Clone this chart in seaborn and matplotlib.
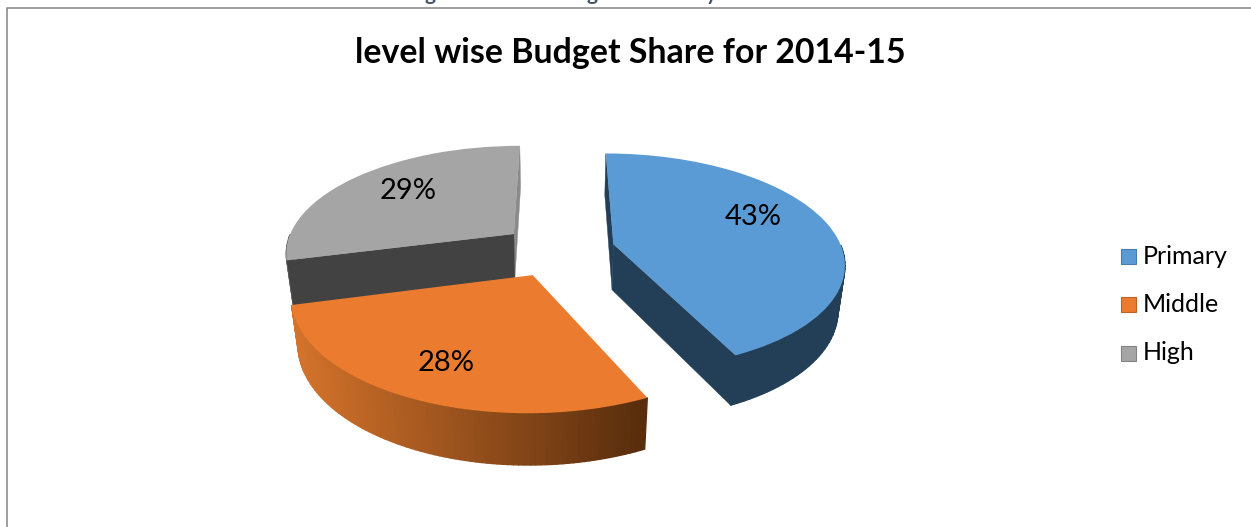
import numpy as np
import matplotlib
matplotlib.use("Agg")
import matplotlib.pyplot as plt
import seaborn as sns
from matplotlib.transforms import Transform
from matplotlib.patches import Rectangle
from matplotlib.colors import to_rgb

categories = ["Primary", "Middle", "High"]
shares = [43, 28, 29]
top_colors = ["#5B9BD5", "#EB7C2F", "#A5A5A5"]
title_text = "level wise Budget Share for 2014-15"
clipped_caption_letters = ["g", "g", "y"]

sns.set_theme(style="white")
plt.rcParams["font.family"] = ["Lato", "DejaVu Sans"]

CX, CY, RX, RY, A, B, D = 558.0, 250.0, 229.0, 107.0, 0.16, 0.025, 47.0


def project(x, y, z=0.0):
    w = 1 + A * np.asarray(y) + B * z
    return CX + RX * np.asarray(x) / w, CY - RY * np.asarray(y) / w + D * z / w


class Perspective(Transform):
    input_dims = output_dims = 2
    is_affine = False
    has_inverse = False

    def transform_non_affine(self, values):
        v = np.asarray(values, float)
        px, py = project(v[:, 0], v[:, 1])
        return np.column_stack([px, py])


fig = plt.figure(figsize=(12.51, 5.27), dpi=100, facecolor="white")
ax = fig.add_axes([0, 0, 1, 1])

wedges, texts, autotexts = ax.pie(
    shares, explode=[0.25] * len(shares), startangle=90, counterclock=False,
    colors=top_colors, autopct="%1.0f%%", pctdistance=0.66,
    wedgeprops=dict(linewidth=0, zorder=5),
    textprops=dict(fontsize=21, color="black", zorder=8, family="Lato"),
)
ax.set_aspect("auto")
ax.set_xlim(0, 1251)
ax.set_ylim(527, 0)
ax.axis("off")

persp = Perspective()
for w in wedges:
    w.set_transform(persp + ax.transData)
label_nudges = [(0.01, 0.13), (-0.03, -0.08), (0.0, 0.05)]
for t, (dx, dy) in zip(autotexts, label_nudges):
    px, py = t.get_position()
    t.set_position((px + dx, py + dy))
    t.set_transform(persp + ax.transData)


def shade(col, f):
    return tuple(c * f for c in to_rgb(col))


def rim_color(i, frac):
    if i == 0:
        return "#233F58"
    if i == 1:
        left, right = np.array([0.83, 0.45, 0.17]), np.array([0.35, 0.18, 0.05])
        return tuple(left + (right - left) * frac)
    return "#6E6E6E"


# side faces, back to front: High, Primary, Middle
for i, zo in [(2, 1), (0, 2), (1, 3)]:
    wd = wedges[i]
    cx, cy = wd.center
    t1, t2 = np.radians(wd.theta1), np.radians(wd.theta2)

    # outer rim as gradient strip; the back of the rim is hidden behind the top face
    th = np.linspace(t1, t2, 90)
    th = th[np.sin(th) < 0.0]
    xr, yr = project(cx + np.cos(th), cy + np.sin(th))
    xb, yb = project(cx + np.cos(th), cy + np.sin(th), 1.0)
    for k in range(len(th) - 1):
        mid = 0.5 * (xr[k] + xr[k + 1])
        frac = np.clip((mid - 295) / (640 - 295), 0, 1)
        ax.fill([xr[k], xr[k + 1], xb[k + 1], xb[k]],
                [yr[k], yr[k + 1], yb[k + 1], yb[k]],
                color=rim_color(i, frac), lw=1.0, zorder=zo)

    # radial cut faces; the Middle slice turns both of its cuts away from the viewer
    if i == 1:
        continue
    for t, col in ((t1, "#8A8A8A" if i == 2 else "#233F58"),
                   (t2, "#424242" if i == 2 else "#233F58")):
        ex, ey = cx + np.cos(t), cy + np.sin(t)
        a0, b0 = project([cx, ex], [cy, ey])
        a1, b1 = project([cx, ex], [cy, ey], 1.0)
        ax.fill([a0[0], a0[1], a1[1], a1[0]], [b0[0], b0[1], b1[1], b1[0]],
                color=col, lw=0.3, zorder=zo + (0.1 if ey > cy else 0.2))

# chart frame (clipped at the right and bottom of the picture)
ax.plot([7, 7, 1251], [527, 8, 8], color="#8C8C8C", lw=1.2, zorder=1, clip_on=False)

# descenders of the page caption cut off by the crop
for letter, x in zip(clipped_caption_letters, [430, 592, 711]):
    ax.text(x, 0, letter, ha="center", va="baseline", fontsize=15, fontweight="bold",
            color="#44546A", family="Lato", clip_on=True)

ax.text(630, 53, title_text, ha="center", va="center", fontsize=24.4, fontweight="bold",
        color="black", family="Lato")

# legend
ly = [256, 304, 353]
for name, col, y in zip(categories, top_colors, ly):
    ax.add_patch(Rectangle((1121, y - 7.5), 15, 15, facecolor=col, edgecolor=shade(col, 0.8), lw=0.8, zorder=6))
    ax.text(1143, y, name, ha="left", va="center", fontsize=18, color="black", family="Lato")

fig.savefig("out.png", dpi=100, facecolor="white")
